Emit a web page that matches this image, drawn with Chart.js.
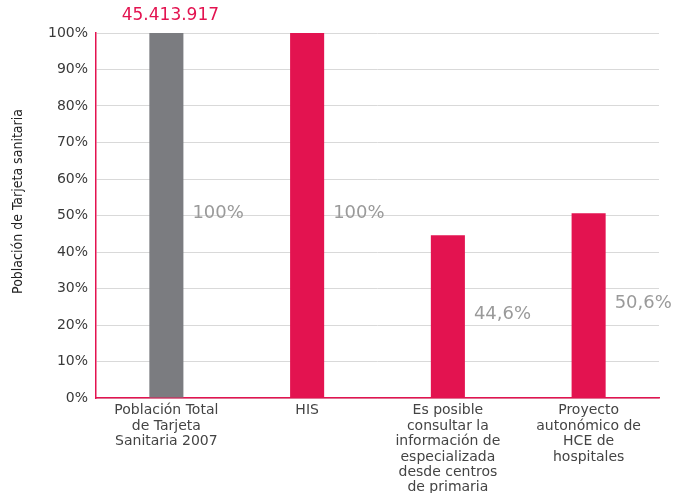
<!DOCTYPE html>
<html>
<head>
<meta charset="utf-8">
<script src="https://cdn.jsdelivr.net/npm/chart.js@4/dist/chart.umd.min.js"></script>
<style>
  html, body { margin: 0; padding: 0; background: #fff; }
  #wrap { width: 686px; height: 493px; }
</style>
</head>
<body>
<div id="wrap"><canvas id="c"></canvas></div>
<script>
// Categories (multi-line axis labels)
const categories = [
  ['Población Total', 'de Tarjeta', 'Sanitaria 2007'],
  ['HIS'],
  ['Es posible', 'consultar la', 'información de', 'especializada', 'desde centros', 'de primaria'],
  ['Proyecto', 'autonómico de', 'HCE de', 'hospitales']
];
// Share of population with health card (%)
const values = [100, 100, 44.6, 50.6];
const valueLabels = ['100%', '100%', '44,6%', '50,6%'];
const totalLabel = '45.413.917';
const yTicks = [0, 10, 20, 30, 40, 50, 60, 70, 80, 90, 100];
const yTitle = 'Población de Tarjeta sanitaria';

const PINK = '#e31350';
const GREY_BAR = '#7b7c80';

const labelsPlugin = {
  id: 'barLabels',
  afterDatasetsDraw(chart) {
    const ctx = chart.ctx;
    const meta = chart.getDatasetMeta(0);
    const y = chart.scales.y;
    ctx.save();
    // value labels to the right of each bar, at half height
    ctx.font = '18px "DejaVu Sans"';
    ctx.fillStyle = '#9a9a9a';
    ctx.textAlign = 'left';
    ctx.textBaseline = 'middle';
    meta.data.forEach((bar, i) => {
      const midY = y.getPixelForValue(values[i] / 2) - 2;
      ctx.fillText(valueLabels[i], bar.x + bar.width / 2 + 9, midY);
    });
    // total population above the first bar
    const first = meta.data[0];
    ctx.font = '17px "DejaVu Sans"';
    ctx.fillStyle = PINK;
    ctx.textAlign = 'center';
    ctx.textBaseline = 'middle';
    ctx.fillText(totalLabel, first.x + 4, y.getPixelForValue(100) - 17);
    // rotated axis title
    ctx.translate(18, (chart.chartArea.top + chart.chartArea.bottom) / 2 - 14);
    ctx.rotate(-Math.PI / 2);
    ctx.font = '14px "Liberation Sans Narrow", "DejaVu Sans Condensed", sans-serif';
    ctx.fillStyle = '#222';
    ctx.fillText(yTitle, 0, 0);
    ctx.restore();
  }
};

new Chart(document.getElementById('c'), {
  type: 'bar',
  data: {
    labels: categories,
    datasets: [{
      data: values,
      backgroundColor: [GREY_BAR, PINK, PINK, PINK],
      borderWidth: 0,
      barPercentage: 0.242,
      categoryPercentage: 1
    }]
  },
  options: {
    responsive: true,
    maintainAspectRatio: false,
    animation: false,
    layout: { padding: { top: 33, right: 27, left: 0, bottom: 0 } },
    plugins: { legend: { display: false }, tooltip: { enabled: false } },
    scales: {
      x: {
        grid: { display: false, drawTicks: false },
        border: { color: PINK, width: 1.5 },
        ticks: {
          color: '#444',
          font: { family: 'DejaVu Sans', size: 14, lineHeight: 1.1 },
          padding: 5,
          maxRotation: 0,
          autoSkip: false
        },
        afterFit(scale) { scale.height = 95; }
      },
      y: {
        min: 0,
        max: 100,
        afterBuildTicks(scale) { scale.ticks = yTicks.map(v => ({ value: v })); },
        grid: { color: '#d9d9d9', lineWidth: 1, drawTicks: false },
        border: { color: PINK, width: 1.5 },
        ticks: {
          color: '#3a3a3a',
          font: { family: 'DejaVu Sans', size: 14 },
          padding: 8,
          callback: v => v + '%'
        },
        afterFit(scale) { scale.width = 96; }
      }
    }
  },
  plugins: [labelsPlugin]
});
</script>
</body>
</html>
